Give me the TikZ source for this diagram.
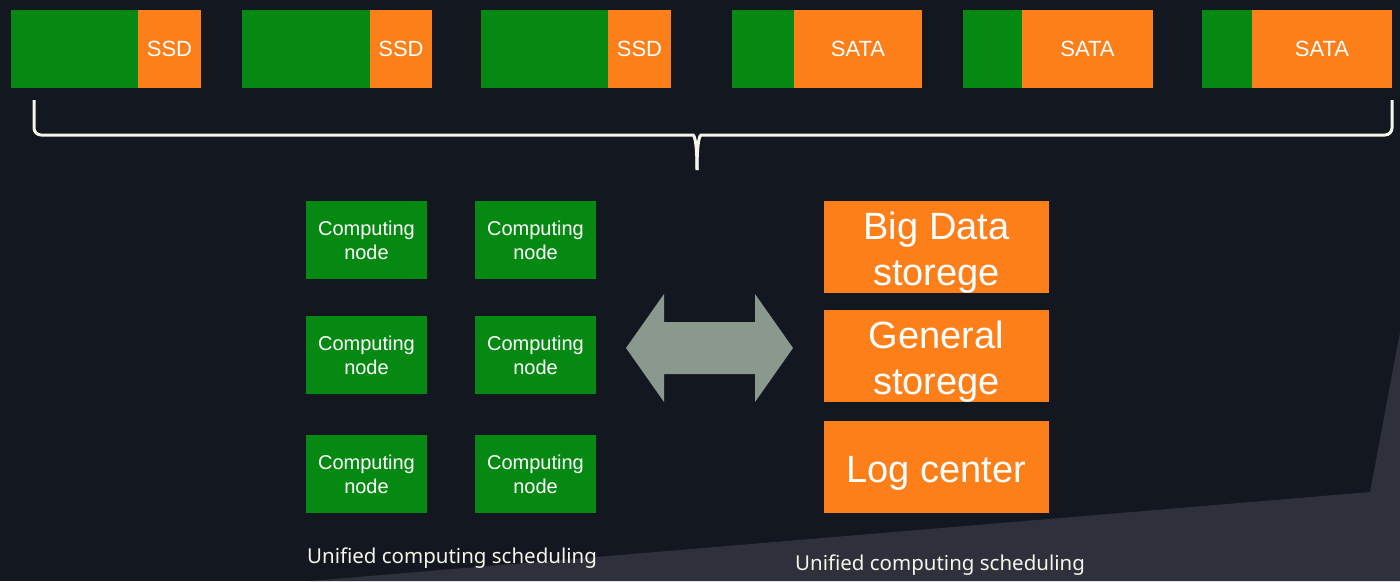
\documentclass[tikz,border=0pt]{standalone}
\usepackage{fontspec}
\setmainfont{Liberation Sans}
\newfontfamily\captionfont{Noto Sans}
\usepackage{xcolor}
\usepackage{tikz}

\definecolor{bgdark}{RGB}{19,23,31}
\definecolor{bglight}{RGB}{46,48,59}
\definecolor{diskgreen}{RGB}{6,137,18}
\definecolor{diskorange}{RGB}{252,127,26}
\definecolor{swapgray}{RGB}{138,152,142}
\definecolor{bracewhite}{RGB}{244,246,234}

\newcommand{\storestrut}{\rule{0pt}{38pt}}

\begin{document}
\begin{tikzpicture}[x=1pt,y=-1pt,
  block/.style={anchor=north west,inner sep=0pt,outer sep=0pt,text=white,align=center},
  greenpart/.style={block,fill=diskgreen,minimum height=78},
  orangepart/.style={block,fill=diskorange,minimum height=78,font=\fontsize{22}{26}\selectfont},
  compnode/.style={block,fill=diskgreen,minimum width=121,minimum height=78,font=\fontsize{20}{24}\selectfont},
  storenode/.style={block,fill=diskorange,minimum width=225,minimum height=92,font=\fontsize{38}{46}\selectfont},
  captext/.style={anchor=base,inner sep=0pt,text=bracewhite,font=\captionfont\fontsize{20.5}{24}\selectfont}]

\useasboundingbox (0,0) rectangle (1400,581);

\fill[bgdark] (0,0) rectangle (1400,581);

\fill[bglight] (1400,332) -- (1370,492) -- (310,581) -- (1400,581) -- cycle;

\foreach \x/\g/\lab [count=\i] in {11/127/SSD,242/128/SSD,481/127/SSD,732/62/SATA,963/59/SATA,1202/50/SATA} {

  \node[greenpart,minimum width=\g] (green\i) at (\x,10) {};

  \node[orangepart,minimum width=190-\g] (disk\i) at (green\i.north east) {\lab};
}

\coordinate (braceleft) at (34,100);
\coordinate (braceright) at (1392,100);
\coordinate (bracetip) at (697,170);

\draw[bracewhite,line width=3,rounded corners=7] (braceleft) -- (34,135) -- (686,135) .. controls (694,135) and (697,140) .. (bracetip);

\draw[bracewhite,line width=3,rounded corners=7] (braceright) -- (1392,135) -- (708,135) .. controls (700,135) and (697,140) .. (bracetip);

\foreach \x [count=\c] in {306,475} {
  \foreach \y [count=\r] in {201,316,435} {

    \node[compnode] (comp\c\r) at (\x,\y) {Computing\\node};
  }
}

\coordinate (swap) at (710,348);

\fill[swapgray] ([xshift=-84]swap) -- ++(38,-54) -- ++(0,28) -- ++(91,0) -- ++(0,-28) -- ++(38,54) -- ++(-38,54) -- ++(0,-28) -- ++(-91,0) -- ++(0,28) -- cycle;

\node[storenode] (bigdata) at (824,201) {\storestrut Big Data\\storege};
\node[storenode] (general) at (824,310) {\storestrut General\\storege};
\node[storenode] (logcenter) at (824,421) {\storestrut Log center};

\node[captext] (leftcaption) at (452,563) {Unified computing scheduling};
\node[captext] (rightcaption) at (940,570) {Unified computing scheduling};

\end{tikzpicture}
\end{document}
